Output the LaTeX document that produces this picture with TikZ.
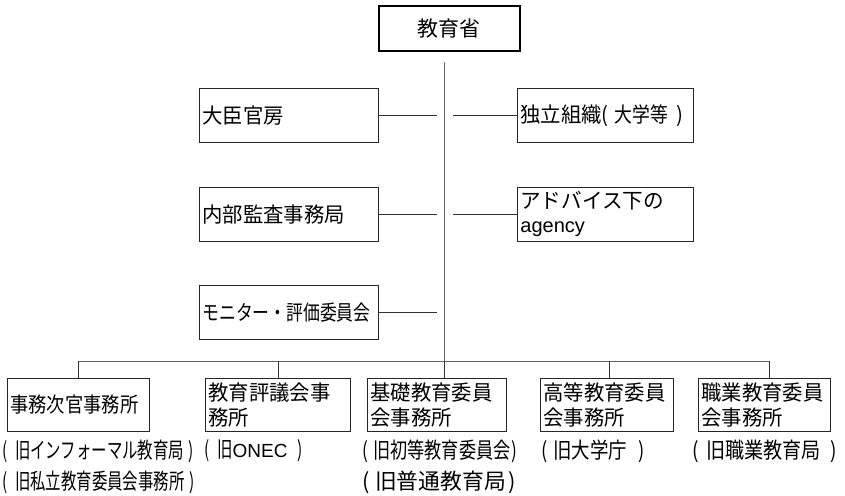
\documentclass[tikz,border=0pt]{standalone}
\usepackage{fontspec}
\setmainfont{Noto Sans CJK JP}
\newfontfamily\latn{Liberation Sans}
\newcommand{\annfont}[1]{\fontsize{22}{24}\selectfont\addfontfeature{FakeStretch=#1}}
\newcommand{\op}[1]{\makebox[#1][l]{(}}
\begin{document}
\begin{tikzpicture}[x=1pt,y=-1pt,
  box/.style={draw=black!85, line width=0.8pt, inner xsep=3pt, inner ysep=0pt, align=left, anchor=north west},
  bt/.style={font=\fontsize{21}{25}\selectfont\addfontfeature{FakeStretch=0.97}},
  ann/.style={anchor=west, inner sep=0pt},
  ln/.style={draw=black!80, line width=0.8pt},
  vl/.style={draw=black!60, line width=0.9pt}]
\useasboundingbox (0,0) rectangle (845,495);
% top
\node[draw=black, line width=1.6pt, minimum width=141pt, minimum height=45pt, anchor=north west,
  font=\fontsize{21}{24}\selectfont] (moe) at (378,5) {教育省};
% left boxes
\node[box, bt, text width=173pt, minimum height=54pt] (a1) at (199,88) {大臣官房};
\node[box, bt, text width=173pt, minimum height=54pt] (a2) at (199,187) {内部監査事務局};
\node[box, text width=173pt, minimum height=54pt, font=\fontsize{21}{25}\selectfont\addfontfeature{FakeStretch=0.8}] (a3) at (199,285) {モニター・評価委員会};
% right boxes
\node[box, bt, text width=170pt, minimum height=54pt] (b1) at (517,88) {独立組織(\hspace{6pt}{\addfontfeature{FakeStretch=0.85}大学等}\hspace{8pt})};
\node[box, text width=170pt, minimum height=54pt, font=\fontsize{21}{24}\selectfont\addfontfeature{FakeStretch=0.98}] (b2) at (517,187) {アドバイス下の\\{\latn\fontsize{20}{24}\selectfont agency}};
% bottom boxes
\node[box, text width=136pt, minimum height=53pt, font=\fontsize{21}{25}\selectfont\addfontfeature{FakeStretch=0.87}] (c1) at (7,378) {\raisebox{-9pt}{事務次官事務所}};
\node[box, bt, text width=139pt, minimum height=53pt] (c2) at (205,378) {教育評議会事\\務所};
\node[box, bt, text width=133pt, minimum height=53pt] (c3) at (367,378) {基礎教育委員\\会事務所};
\node[box, bt, text width=127pt, minimum height=53pt] (c4) at (540,378) {高等教育委員\\会事務所};
\node[box, bt, text width=126pt, minimum height=53pt] (c5) at (698,378) {職業教育委員\\会事務所};
% annotations
\node[ann, font=\annfont{0.70}] (n1) at (2,451) {\op{13pt}旧インフォーマル教育局\hspace{4pt})};
\node[ann, font=\annfont{0.70}] (n2) at (204,451) {\op{13pt}旧{\latn\fontsize{19}{24}\selectfont ONEC}\hspace{10pt})};
\node[ann, font=\annfont{0.78}] (n3) at (362,451) {\op{11pt}旧初等教育委員会\hspace{1pt})};
\node[ann, font=\annfont{0.84}] (n4) at (541,451) {\op{12pt}旧大学庁\hspace{11pt})};
\node[ann, font=\annfont{0.87}] (n5) at (692,451) {\op{14pt}旧職業教育局\hspace{9pt})};
\node[ann, font=\annfont{0.70}] (n6) at (2,482) {\op{13pt}旧私立教育委員会事務所\hspace{5pt})};
\node[ann, font=\annfont{0.99}] (n7) at (362,482) {\op{13pt}旧普通教育局\hspace{3pt})};
% connectors
\coordinate (vtop) at (444,62);
\coordinate (vbot) at (444,361);
\coordinate (busL) at (78,361);
\coordinate (busR) at (769,361);
\draw[vl] (vtop) -- (vbot);
\draw[vl] (busL) -- (busR);
\draw[ln] (a1.east) -- ++(58,0);
\draw[ln] (a2.east) -- ++(58,0);
\draw[ln] (a3.east) -- ++(58,0);
\draw[ln] (b1.west) -- ++(-64,0);
\draw[ln] (b2.west) -- ++(-64,0);
\draw[ln] (busL) -- (busL |- c1.north);
\draw[ln] (278,361) -- (278,378);
\draw[ln] (vbot) -- (vbot |- c3.north);
\draw[ln] (609,361) -- (609,378);
\draw[ln] (busR) -- (busR |- c5.north);
\end{tikzpicture}
\end{document}
